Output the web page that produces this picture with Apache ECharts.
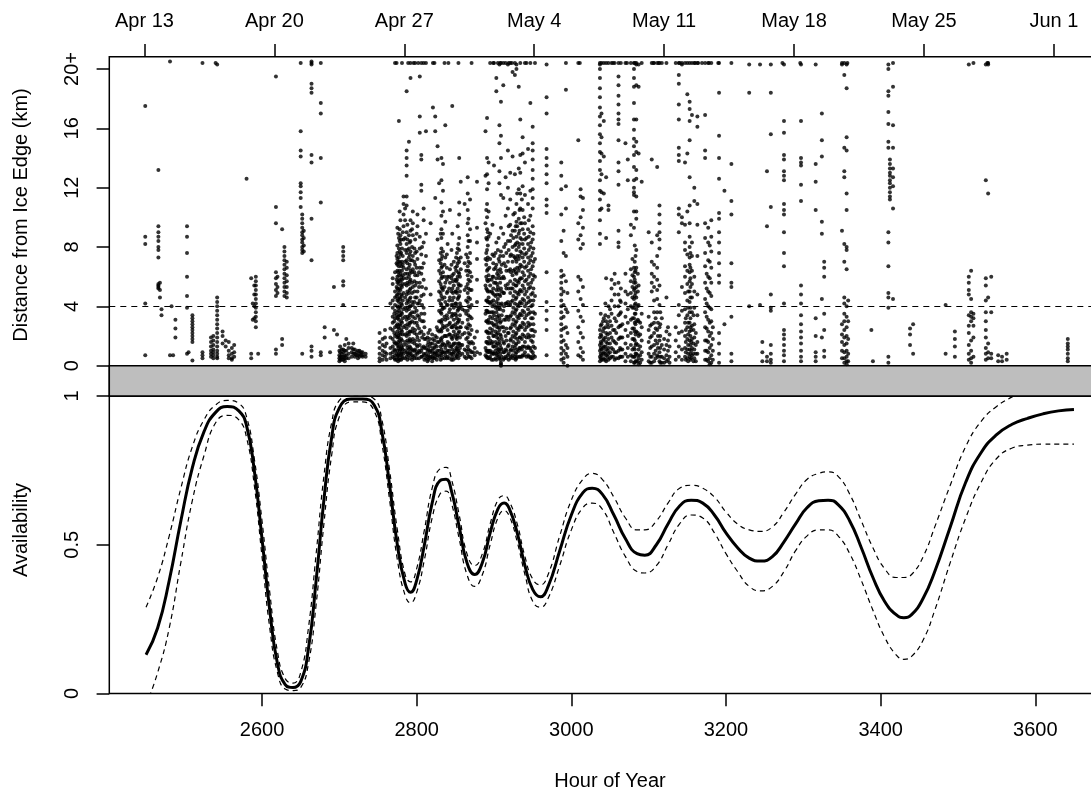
<!DOCTYPE html>
<html>
<head>
<meta charset="utf-8">
<script src="https://cdn.jsdelivr.net/npm/echarts@6/dist/echarts.min.js"></script>
<style>
html,body{margin:0;padding:0;background:#fff;overflow:hidden;}
#chart{width:1120px;height:791px;}
</style>
</head>
<body>
<div id="chart"></div>
<script>
// ---------- tick labels ----------
const dateTickHours = [2448, 2616, 2784, 2952, 3120, 3288, 3456, 3624];
const dateTickLabels = ['Apr 13', 'Apr 20', 'Apr 27', 'May 4', 'May 11', 'May 18', 'May 25', 'Jun 1'];
const hourTicks = [2600, 2800, 3000, 3200, 3400, 3600];
const distTicks = [0, 4, 8, 12, 16, 20];
const availTicks = [0, 0.5, 1];

// ---------- availability curve (hour, value) ----------
const curveHours = [2450,2465,2480,2495,2510,2525,2540,2555,2570,2580,2590,2600,2610,2620,2630,2640,2650,2660,2670,2680,2690,2700,2715,2730,2745,2755,2765,2775,2785,2792,2800,2810,2820,2830,2838,2845,2855,2865,2875,2885,2895,2905,2913,2920,2930,2940,2950,2960,2970,2985,3000,3015,3027,3040,3055,3070,3085,3095,3110,3125,3140,3155,3170,3185,3200,3215,3230,3245,3260,3275,3290,3305,3320,3332,3345,3360,3375,3390,3405,3420,3430,3440,3455,3470,3490,3510,3530,3550,3570,3590,3610,3630,3650];
const availMain = [0.13,0.22,0.38,0.58,0.76,0.88,0.945,0.965,0.95,0.90,
  0.75,0.52,0.28,0.10,0.03,0.02,0.04,0.15,0.38,0.65,
  0.86,0.96,0.99,0.99,0.97,0.88,0.70,0.50,0.37,0.34,
  0.38,0.50,0.64,0.715,0.72,0.68,0.56,0.44,0.40,0.44,
  0.54,0.62,0.64,0.62,0.54,0.43,0.35,0.325,0.36,0.48,
  0.60,0.675,0.69,0.67,0.60,0.52,0.47,0.465,0.50,0.57,
  0.63,0.65,0.64,0.60,0.54,0.49,0.455,0.445,0.46,0.51,
  0.57,0.625,0.648,0.65,0.635,0.58,0.49,0.39,0.31,0.265,
  0.255,0.265,0.32,0.41,0.56,0.71,0.81,0.87,0.905,0.925,
  0.94,0.95,0.955];
const availUpper = [0.29,0.39,0.53,0.69,0.83,0.92,0.97,0.985,0.975,0.93,
  0.79,0.58,0.34,0.14,0.05,0.035,0.07,0.22,0.47,0.73,
  0.91,0.985,1.0,1.0,0.99,0.92,0.75,0.55,0.40,0.375,
  0.42,0.55,0.69,0.755,0.76,0.72,0.60,0.47,0.43,0.47,
  0.57,0.65,0.665,0.645,0.57,0.46,0.385,0.365,0.40,0.53,
  0.65,0.72,0.74,0.72,0.66,0.59,0.55,0.55,0.58,0.64,
  0.69,0.70,0.69,0.66,0.61,0.57,0.55,0.545,0.56,0.61,
  0.67,0.72,0.74,0.745,0.73,0.67,0.58,0.49,0.42,0.39,
  0.39,0.40,0.46,0.56,0.70,0.83,0.915,0.965,0.997,1.025,
  1.05,1.07,1.08];
const availLower = [-0.04,0.07,0.22,0.44,0.65,0.80,0.91,0.935,0.92,0.86,
  0.70,0.46,0.22,0.07,0.015,0.01,0.02,0.10,0.30,0.57,
  0.80,0.93,0.98,0.98,0.95,0.84,0.65,0.45,0.33,0.305,
  0.34,0.45,0.59,0.67,0.68,0.64,0.52,0.40,0.36,0.40,
  0.50,0.59,0.615,0.595,0.51,0.40,0.31,0.29,0.32,0.43,
  0.55,0.625,0.64,0.62,0.54,0.46,0.41,0.405,0.43,0.50,
  0.57,0.60,0.59,0.54,0.47,0.41,0.36,0.345,0.36,0.41,
  0.48,0.53,0.55,0.55,0.53,0.47,0.38,0.28,0.19,0.13,
  0.115,0.125,0.18,0.28,0.44,0.59,0.71,0.79,0.825,0.835,
  0.838,0.838,0.838];

// ---------- distance from ice edge: [hour, [distances km]] ; 20.4 = "20+" ----------
const scatterCols = [
 [2449,[17.5,8.7,8.2,4.2,0.7]],
 [2466,[13.2,9.4,9.0,8.7,8.4,8.0,7.8,7.3,5.5,5.4,5.3,5.2]],
 [2468,[5.6,5.1,4.6]],
 [2470,[3.8,3.4]],
 [2481,[20.5,0.7]],
 [2483,[4.0]],
 [2485,[0.7]],
 [2488,[3.1,2.5,1.9]],
 [2503,[9.4,8.7,7.6,6.0,4.7,3.9,0.8]],
 [2505,[0.9]],
 [2510,[3.4,3.2,3.0,2.8,2.6,2.4,2.2,2.0,1.8,1.6,0.35]],
 [2523,[20.4,0.9,0.7,0.5]],
 [2534,[1.9,1.6,1.3,1.0,0.8,0.6]],
 [2537,[2.0,1.7,1.4,1.1,0.9,0.7,0.5]],
 [2540,[20.4]],
 [2542,[20.3,4.6,4.3,4.0,3.7,3.4,3.1,2.8,2.5,2.2,1.9,1.6,1.3,1.0,0.8,0.6,0.5]],
 [2549,[2.3,2.0,1.5]],
 [2553,[1.7,1.3]],
 [2557,[1.6,1.0,0.7,0.5]],
 [2561,[1.2,0.8,0.5,0.4]],
 [2564,[1.4,0.9,0.6]],
 [2580,[12.6]],
 [2586,[5.9,0.8,0.5]],
 [2588,[4.2,3.1]],
 [2590,[5.4,4.8,4.0,3.2]],
 [2592,[6.0,5.7,5.4,5.1,4.8,4.5,4.2,3.9,3.6,3.3,3.0,2.6]],
 [2595,[0.8]],
 [2618,[19.5,10.7,9.6,6.3,5.9,5.5,5.1,4.7,1.1,0.8]],
 [2620,[6.0,5.3,4.9]],
 [2626,[9.2,1.8,1.4]],
 [2629,[8.0,7.7,7.4,7.1,6.8,6.5,6.2,5.9,5.6,5.3,5.0,4.7]],
 [2632,[7.0,6.6,6.1,5.7,5.3,4.9,4.6]],
 [2650,[20.4,15.8,14.5,14.1,12.3,12.1,11.7,11.3,10.7]],
 [2652,[10.2,9.9,9.6,9.3,9.0,8.8,8.5,8.3,8.0,7.8,7.6,0.8]],
 [2654,[9.1,8.6,8.1,7.7]],
 [2664,[20.5,20.4,20.3,19.0,18.7,18.4,14.2,13.7,9.9,7.1,1.3,1.0,0.6]],
 [2676,[20.4,17.7,17.0,14.0,11.0,0.9,0.7]],
 [2681,[2.6,1.9]],
 [2688,[0.9]],
 [2693,[5.3,2.4]],
 [2697,[2.1]],
 [2700,[1.0,0.7,0.5,0.3]],
 [2703,[1.1,0.8,0.6,0.4]],
 [2705,[8.0,7.7,7.4,7.1,5.7,5.4,4.1,1.1,0.9,0.6,0.4]],
 [2709,[1.8,1.0,0.7,0.5]],
 [2712,[1.5,1.2,0.8,0.5]],
 [2718,[1.5,1.1,0.8]],
 [2722,[0.9,0.7]],
 [2726,[1.0,0.8,0.6]],
 [2730,[0.9,0.7,0.6]],
 [2734,[0.8,0.6]],
 [2752,[2.2,1.6,1.2,0.8,0.5,0.3]],
 [2756,[1.8,1.4,1.0,0.7,0.4]],
 [2759,[2.4,1.9,1.3,0.9,0.6]],
 [2761,[1.5,0.8,0.4]],
 [2766,[4.2,2.5,1.9,1.2,0.8,0.5]],
 [2769,[5.9,5.5,4.4,3.9,3.3,2.9,2.4,1.8,1.3,0.9,0.6]],
 [2772,[6.3,5.0,4.6,4.1,3.7,3.2,2.6,2.0,1.5,1.0,0.7,0.4]],
 [2775,[9.3,8.1,7.6,7.2,6.8,6.4,6.0,5.6,5.2,4.8,4.4,4.0,3.6,3.2,2.8,2.3,1.9,1.4,1.0,0.6]],
 [2777,[16.5,8.6,7.9,7.3,6.7,6.1,5.5,4.9,4.3,3.7,3.1,2.5,1.9,1.3,0.8,0.5]],
 [2779,[9.8,8.8,8.2,7.5,6.9,6.2,5.7,5.1,4.5,3.9,3.4,2.7,2.1,1.5,1.1,0.7]],
 [2781,[20.4,7.9,7.0,6.4,5.8,5.3,4.7,4.1,3.5,2.9,2.3,1.7,1.2,0.9,0.6]],
 [2783,[11.4,10.9,10.2,9.4,8.5,6.6,5.9,4.9,3.8,2.6,1.4,0.8]],
 [2787,[18.5,14.5,14.0,13.5,12.8,11.4,10.8,9.0,8.2,7.6,7.1,6.5,5.9,5.4,4.8,4.2,3.7,3.1,2.5,2.0,1.4,0.9,0.6]],
 [2790,[15.1,8.8,7.9,7.3,6.6,6.0,5.5,4.9,4.3,3.8,3.2,2.7,2.1,1.6,1.1,0.7]],
 [2792,[19.4,20.4,9.8,9.1,8.4,7.7,7.1,6.4,5.8,5.2,4.6,4.0,3.5,2.9,2.3,1.7,1.2,0.8]],
 [2795,[10.4,9.6,8.8,7.4,6.5,5.3,4.1,3.3,2.5,1.8,1.0,0.6]],
 [2798,[20.4,8.5,7.6,6.8,6.1,5.4,4.6,3.9,3.2,2.4,1.7,1.1,0.7]],
 [2801,[10.2,9.4,7.2,6.1,5.0,4.2,3.4,2.7,1.9,1.3,0.8]],
 [2804,[19.5,16.8,15.7,8.7,7.9,6.6,5.6,4.4,3.1,2.2,1.4,0.9]],
 [2806,[20.4,14.2,13.9,12.2,11.8,7.5,6.2,4.7,3.5,2.3,1.0,0.6]],
 [2809,[20.4,10.6,9.8,8.3,6.9,5.8,4.8,3.9,3.0,2.1,1.3,0.8]],
 [2812,[20.4,15.8,8.9,7.4,5.2,1.8,1.2,0.8,0.5]],
 [2815,[2.2,1.6,1.1,0.7,0.4]],
 [2818,[9.6,4.8,1.5,1.0,0.6]],
 [2821,[20.4,17.4,1.8,1.2,0.8,0.5]],
 [2824,[16.8,15.8,11.3,2.0,1.4,0.9,0.6]],
 [2827,[14.8,13.9,8.5,2.4,1.6,1.0,0.7]],
 [2829,[12.3,7.1,6.4,5.7,5.0,4.4,3.7,3.0,2.3,1.6,1.0,0.6]],
 [2832,[14.0,12.5,11.0,10.1,9.2,8.6,7.9,7.2,6.6,5.9,5.3,4.7,4.1,3.5,2.9,2.3,1.7,1.1,0.7]],
 [2834,[13.6,11.8,10.4,8.9,7.7,6.3,5.1,3.9,2.7,1.5,0.9]],
 [2837,[16.2,9.7,7.3,5.6,4.3,3.1,2.0,1.2,0.7]],
 [2840,[8.2,6.0,5.0,4.1,3.2,2.4,1.6,1.0,0.6]],
 [2843,[10.5,6.5,5.6,4.6,3.8,2.9,2.1,1.3,0.8]],
 [2846,[17.5,8.9,6.1,5.2,4.4,3.5,2.6,1.8,1.1,0.6]],
 [2848,[7.0,6.2,5.4,4.6,3.9,3.1,2.3,1.5,0.9]],
 [2851,[7.3,6.4,5.7,5.0,4.2,3.4,2.6,1.9,1.2,0.7]],
 [2853,[9.4,7.9,6.9,6.0,5.2,4.5,3.7,2.9,2.0,1.3,0.8]],
 [2855,[14.0,11.0,10.2,8.6,7.8,7.0,6.2,5.4,4.7,3.9,3.1,2.3,1.5,0.9]],
 [2857,[12.4,7.3,6.5,5.4,4.0,2.6,1.4]],
 [2862,[10.9,6.9,5.1,3.7,2.2,1.1,0.6]],
 [2866,[12.7,11.6,10.5,9.6,8.8,8.0,7.3,6.7,6.1,5.5,4.9,4.3,3.7,3.1,2.5,1.9,1.3,0.8]],
 [2869,[11.2,9.2,8.4,7.6,6.9,6.3,5.7,5.1,4.5,3.9,3.3,2.7,2.1,1.5,1.0,0.6]],
 [2873,[1.5,0.9]],
 [2878,[12.4,9.3,8.3,7.2,5.8,4.3,2.3,0.9]],
 [2882,[0.8]],
 [2889,[15.8,12.8,9.6,7.2,5.4,3.5,1.2,0.7]],
 [2891,[16.7,14.0,12.9,11.9,10.9,10.0,9.2,8.5,7.8,7.1,6.4,5.8,5.1,4.4,3.7,3.0,2.3,1.6,1.0,0.6]],
 [2893,[13.7,12.3,10.4,8.7,6.1,4.6,3.1,1.9,1.0]],
 [2895,[8.9,7.2,5.4,4.2,3.3,2.5,1.7,1.0,0.6]],
 [2898,[9.5,7.5,6.0,4.9,4.0,3.2,2.4,1.6,0.9]],
 [2900,[20.4,13.5,7.4,6.5,5.6,4.8,4.1,3.4,2.7,2.0,1.3,0.8]],
 [2903,[19.4,18.5,8.3,6.8,5.9,5.1,4.3,3.6,2.8,2.1,1.4,0.8,0.4]],
 [2905,[20.4,7.8,6.4,5.3,4.5,3.8,3.0,2.2,1.5,0.9]],
 [2907,[20.3,16.2,15.0,13.1,12.3,7.0,5.9,4.8,3.9,3.2,2.4,1.6,1.0,0.5]],
 [2909,[20.4,17.8,15.5,14.0,11.5,9.3,7.7,6.3,5.2,4.1,3.0,2.0,1.2,0.2,0.1,0.0]],
 [2912,[20.4,18.9,11.3,8.9,7.4,6.0,4.9,3.7,2.6,1.6,0.9,0.4]],
 [2915,[20.4,12.7,10.1,8.2,6.7,5.4,4.2,3.1,2.0,1.1,0.6]],
 [2918,[20.3,14.5,12.0,10.6,8.4,7.0,5.5,4.3,3.3,2.2,1.3,0.7]],
 [2921,[20.4,13.0,11.2,9.5,8.4,7.4,6.5,5.7,4.9,4.1,3.3,2.5,1.7,1.0,0.5]],
 [2924,[19.8,14.1,9.1,8.0,7.0,6.1,5.2,4.4,3.6,2.8,2.0,1.3,0.7]],
 [2927,[20.4,19.6,12.9,10.3,9.1,8.1,7.3,6.5,5.8,5.0,4.2,3.5,2.7,1.9,1.2,0.6]],
 [2929,[20.3,20.0,10.9,9.7,8.7,7.8,7.0,6.2,5.4,4.6,3.8,3.0,2.2,1.5,0.9,0.5]],
 [2932,[18.8,13.3,11.9,9.9,8.9,8.0,7.2,6.4,5.6,4.8,4.0,3.2,2.4,1.6,1.0]],
 [2934,[20.4,16.6,14.2,13.0,11.6,10.6,9.6,8.6,7.7,6.8,5.9,5.1,4.3,3.5,2.7,1.9,1.2,0.6]],
 [2937,[15.4,14.3,12.1,10.5,9.2,8.2,7.3,6.3,5.4,4.5,3.7,2.9,2.1,1.3,0.7]],
 [2940,[20.4,13.7,11.5,9.6,8.5,7.5,6.6,5.7,4.8,4.0,3.2,2.4,1.6,0.9]],
 [2944,[14.6,10.9,9.2,8.2,7.3,6.4,5.5,4.6,3.8,2.9,2.1,1.3,0.7]],
 [2947,[17.7,11.8,10.1,9.0,8.0,7.1,6.2,5.3,4.4,3.6,2.8,2.0,1.2,0.6]],
 [2950,[16.1,15.0,14.5,13.9,13.2,12.6,11.9,11.3,10.6,9.4,8.5,7.6,6.7,5.8,4.9,4.1,3.2,2.4,1.6,0.9,0.5]],
 [2953,[7.2,6.0,4.7,3.5,2.3,1.2,0.6]],
 [2968,[20.3,18.1,17.0,14.6,14.0,13.5,12.9,12.3,11.2,10.8,10.3,6.3,4.3,3.7,3.1,2.4,0.7]],
 [2987,[13.7,12.8,11.9,10.2,8.4,6.4,6.0,5.6,5.2,4.8,4.4,4.0,3.6,3.2,2.8,2.4,2.0,1.6,1.2,0.8,0.4]],
 [2990,[9.1,7.6,6.1,5.0,4.1,3.3,2.5,1.7,1.0,0.5,0.2]],
 [2993,[20.4,18.6,12.1,10.6,7.4,5.7,3.8,2.6,1.4,0.8]],
 [2995,[4.9,3.6,2.2,1.2,0.6,0.0]],
 [3009,[20.4,15.2,9.6,8.5,6.0,5.0,3.7,2.6,1.6,0.7]],
 [3012,[11.9,11.4,10.0,8.8,7.9,5.8,4.5,3.3,2.2,1.2,0.6]],
 [3015,[11.3,10.5,9.3,8.2,5.3,4.1,3.0,1.9,0.9,0.4]],
 [3037,[20.4,20.3,20.0,19.4,18.7,18.1,17.4,16.8,16.2,15.6,15.0,14.4,13.8,13.2,12.5,11.8,11.2,10.5,9.8,8.9,8.2,2.4,1.9,1.4,1.0,0.6,0.3]],
 [3039,[20.4,17.0,15.4,14.3,12.9,11.7,10.6,2.8,2.0,1.5,1.1,0.7,0.4]],
 [3042,[20.4,16.5,14.1,11.6,3.2,2.5,1.8,1.3,0.9,0.5]],
 [3045,[20.4,12.7,8.6,5.9,3.0,2.2,1.6,1.1,0.7,0.3]],
 [3048,[20.4,10.8,10.5,4.0,3.3,2.6,1.8,1.2,0.8,0.4]],
 [3052,[20.4,5.8,5.2,4.4,3.5,2.7,1.9,1.2,0.6]],
 [3056,[20.4,6.2,5.5,4.8,4.0,3.2,2.4,1.6,0.9,0.4]],
 [3061,[20.4,19.5,18.9,18.2,17.6,17.0,16.6,16.3,15.2,13.7,13.1,12.2,9.1,8.3,8.0,5.6,4.8,4.0,3.4,2.6,1.8,1.0,0.5]],
 [3064,[20.4,5.2,4.3,3.6,2.7,1.9,1.1,0.6]],
 [3070,[20.4,15.0,6.2,5.0,4.2,3.3,2.4,1.5,0.8,0.3]],
 [3073,[13.9,12.5,4.8,3.8,2.9,2.0,1.2,0.6]],
 [3077,[20.4,9.5,8.8,6.5,5.7,4.9,4.0,3.1,2.2,1.4,0.7,0.3]],
 [3081,[20.4,20.0,19.4,18.8,17.7,16.6,15.9,15.3,14.8,14.2,13.4,12.5,12.0,11.7,11.5,10.4,9.3,6.6,6.0,5.6,5.1,4.5,3.9,3.2,2.5,1.8,1.2,0.6,0.2]],
 [3084,[20.4,20.3,18.9,16.6,15.1,14.4,13.2,12.6,11.4,10.4,9.9,7.8,6.6,5.3,4.6,3.8,3.0,2.3,1.5,0.8,0.3]],
 [3087,[20.3,18.8,14.3,5.4,4.1,3.0,2.0,1.1,0.5,0.1]],
 [3091,[20.4,12.4,3.5,2.6,1.7,0.9,0.4]],
 [3100,[9.0,3.3,2.4,1.6,0.8,0.3]],
 [3104,[20.4,13.9,8.3,7.0,6.2,5.6,5.0,2.8,2.0,1.3,0.6,0.2]],
 [3107,[20.4,6.8,6.0,5.3,4.4,3.6,2.9,2.2,1.4,0.8,0.3]],
 [3111,[20.4,13.4,8.8,7.4,6.6,5.8,5.1,4.5,3.6,2.4,1.5,0.7]],
 [3114,[20.4,10.8,10.2,9.6,9.0,8.5,7.9,5.4,4.1,2.6,1.7,0.9,0.3]],
 [3117,[20.4,3.2,1.4,0.6,0.2]],
 [3123,[20.4,4.6,2.3,1.4,0.7,0.3]],
 [3127,[2.1,1.3,0.6,0.2]],
 [3135,[20.4,2.6,1.7,0.9,0.4]],
 [3139,[20.4,19.6,19.0,17.6,16.6,14.7,14.2,13.8,10.6,10.2,9.0,4.1,3.4,2.2,1.3,0.6]],
 [3143,[20.4,20.3,10.0,9.6,5.3,3.7,2.3,1.1,0.4]],
 [3147,[20.4,13.7,9.5,8.3,7.8,6.7,6.0,4.9,3.8,2.9,2.0,1.2,0.6]],
 [3150,[20.4,18.3,14.3,10.4,7.5,6.4,5.5,4.4,3.4,2.6,1.8,1.1,0.5]],
 [3153,[20.4,17.8,17.3,16.5,15.2,12.7,10.8,9.6,8.7,8.0,7.3,6.8,6.3,5.7,5.0,4.3,3.6,2.9,2.3,1.7,1.1,0.6]],
 [3156,[20.4,16.9,8.3,7.4,6.4,5.5,4.6,3.6,2.7,1.8,1.2,0.7]],
 [3159,[20.4,12.0,11.1,6.0,5.0,3.9,2.8,1.9,1.1,0.5]],
 [3163,[20.4,16.8,16.1,10.9,9.5,7.4,4.8,3.4,1.6,0.8]],
 [3173,[20.4,16.9,14.5,14.0,9.6,8.6,7.6,6.7,5.6,4.5,3.6,2.6,1.7,1.0,0.4]],
 [3177,[20.4,9.3,8.3,7.1,6.0,5.0,4.0,3.1,2.3,1.6,0.9,0.3]],
 [3181,[20.4,9.8,8.7,7.7,6.6,5.6,4.7,3.8,3.0,2.2,1.4,0.7,0.2]],
 [3191,[20.4,18.4,15.5,14.0,12.6,10.3,9.9,9.0,8.3,7.6,6.9,6.1,5.6,2.2,1.5,0.8,0.2]],
 [3198,[11.8,2.8]],
 [3207,[20.4,13.6,11.1,10.2,6.9,5.6,5.3,3.3,0.8,0.3]],
 [3230,[20.3,18.4,4.0]],
 [3244,[20.3,4.1]],
 [3247,[1.6,0.9,0.3]],
 [3253,[13.1,9.4,0.6,0.3]],
 [3258,[20.3,18.4,15.6,10.7,4.8,3.9,3.7,1.4,0.8,0.4,0.2]],
 [3275,[20.3,16.5,15.7,14.2,13.9,13.1,12.8,12.5,10.9,10.5,10.2,9.0,7.6,6.7,4.2,2.4,2.1,1.8,1.4,1.0,0.7,0.3]],
 [3297,[20.3,16.5,14.0,13.7,13.5,12.2,11.1,5.4,4.8,4.2,3.4,2.8,2.3,1.9,1.5,1.0,0.6,0.3]],
 [3316,[20.3,13.6,12.4,10.5,3.2,2.0,0.9,0.6,0.3]],
 [3324,[17.0,15.2,14.1,9.7,8.9,4.5,1.9]],
 [3327,[7.0,6.6,6.0,3.5,2.4,1.0,0.6]],
 [3350,[20.3,20.4,9.1,2.8,2.1,1.6,1.0,0.5]],
 [3353,[20.4,19.6,14.7,13.1,12.7,8.2,7.0,4.6,4.2,3.5,3.0,2.4,1.9,1.4,0.9,0.5,0.2]],
 [3356,[20.3,18.7,15.4,14.5,11.6,10.5,8.0,7.8,6.5,4.0,3.3,2.6,2.0,1.5,1.0,0.6,0.3,0.1]],
 [3358,[4.4,3.0,1.8,0.8,0.3]],
 [3388,[2.4]],
 [3390,[0.3]],
 [3410,[20.3,20.0,18.5,18.2,17.1,16.3,15.1,14.7,9.0,8.3,6.7,4.9,4.6,3.9,0.6,0.2]],
 [3412,[13.9,13.6,13.3,13.0,12.8,12.5,12.3,12.0,11.7,11.4,11.2]],
 [3416,[20.4,18.8,16.2,14.7,13.3,12.7,12.1,10.6,4.5]],
 [3438,[2.5,2.1,1.4]],
 [3442,[2.8,0.8]],
 [3484,[4.1,0.8]],
 [3496,[2.3,1.8,1.3,0.6]],
 [3514,[20.3,6.0,5.6,5.1,4.8,3.4,2.7,2.2,1.4,0.8,0.4]],
 [3517,[6.4,4.5,3.6,3.3,3.0,1.7,1.0,0.5,0.2]],
 [3520,[3.5,3.2,2.7,1.9,0.6]],
 [3536,[20.3,12.5,5.9,5.4,4.4,3.6,3.0,2.4,1.9,1.2,0.8,0.4]],
 [3539,[20.4,20.3,11.6,4.6,1.5,0.9,0.5]],
 [3543,[6.0,3.6,0.8,0.5]],
 [3552,[0.7,0.3]],
 [3557,[0.6,0.3]],
 [3563,[0.8,0.4]],
 [3642,[1.8,1.5,1.3,1.1,0.8,0.5,0.3]]
];
// additional readings inside the densest bursts
const scatterColsDense = [
 [2701,[1.3,0.9,0.6,0.4]], [2707,[1.4,1.0,0.7,0.5,0.3]], [2716,[1.2,0.9,0.6]],
 [2720,[1.1,0.8,0.6]], [2724,[1.0,0.7,0.5]], [2728,[0.9,0.7]],
 [2771,[3.5,3.0,2.2,1.6,1.1,0.5]],
 [2774,[7.4,6.9,5.8,5.3,4.7,3.4,2.7,2.1,1.5,0.8,0.4]],
 [2776,[8.9,7.0,6.3,5.7,5.1,4.5,3.9,3.3,2.6,2.0,1.6,1.2,0.7,0.3]],
 [2778,[10.4,9.2,8.4,7.7,7.0,6.4,5.8,5.2,4.6,4.0,3.4,2.8,2.2,1.7,1.0,0.4]],
 [2780,[8.5,7.6,6.7,6.0,5.4,4.8,4.2,3.6,3.0,2.4,1.8,1.3,0.8,0.4]],
 [2782,[9.0,7.4,6.8,6.1,5.5,4.4,3.2,2.1,1.1,0.5]],
 [2785,[10.6,9.8,8.6,7.8,7.0,6.2,5.5,4.6,3.9,3.3,2.7,2.1,1.6,1.0,0.5]],
 [2788,[9.5,8.5,7.8,6.9,6.2,5.6,5.0,4.4,3.9,3.3,2.8,2.2,1.7,1.2,0.8,0.4]],
 [2791,[8.3,7.5,6.8,6.2,5.7,5.1,4.5,4.0,3.4,2.9,2.3,1.8,1.3,0.9,0.5]],
 [2794,[9.2,8.0,7.1,6.3,5.6,4.9,4.3,3.6,3.0,2.3,1.6,1.1,0.7,0.4]],
 [2797,[7.9,7.0,6.3,5.7,5.0,4.3,3.6,2.9,2.2,1.5,1.0,0.5]],
 [2800,[8.9,7.7,6.6,5.6,4.6,3.7,2.9,2.1,1.4,0.9,0.5]],
 [2803,[6.3,5.3,4.2,3.3,2.5,1.7,1.0,0.5]],
 [2807,[8.0,6.6,5.3,4.1,3.0,1.9,1.2,0.6]],
 [2810,[3.5,2.6,1.8,1.2,0.7,0.4]],
 [2814,[1.9,1.4,1.0,0.6,0.3]], [2817,[2.4,1.8,1.3,0.9,0.5]], [2820,[2.1,1.5,1.0,0.6,0.3]],
 [2823,[1.7,1.2,0.8,0.5]], [2826,[2.6,1.9,1.3,0.8,0.4]],
 [2831,[8.9,7.6,6.9,6.2,5.5,4.9,4.2,3.6,3.0,2.4,1.8,1.3,0.8,0.4]],
 [2833,[7.4,6.7,6.0,5.2,4.5,3.8,3.1,2.5,1.9,1.4,0.9,0.5]],
 [2836,[6.8,6.0,5.3,4.6,3.9,3.3,2.6,2.0,1.4,0.9,0.5]],
 [2839,[7.5,6.6,5.8,4.9,4.1,3.4,2.7,2.0,1.4,0.9,0.5]],
 [2842,[6.0,5.2,4.4,3.6,2.8,2.1,1.5,1.0,0.5]],
 [2845,[7.8,6.8,5.9,5.0,4.1,3.3,2.6,1.9,1.3,0.8,0.4]],
 [2847,[5.7,4.9,4.1,3.4,2.7,2.0,1.4,0.8,0.4]],
 [2850,[6.6,5.8,5.0,4.2,3.5,2.8,2.1,1.5,1.0,0.5]],
 [2852,[7.6,6.7,5.8,4.9,4.0,3.2,2.5,1.8,1.1,0.6]],
 [2854,[8.2,7.2,6.3,5.5,4.6,3.8,3.0,2.2,1.5,1.0,0.5]],
 [2856,[6.0,5.0,4.2,3.4,2.6,1.9,1.2,0.7]],
 [2859,[3.8,2.9,2.1,1.4,0.8]],
 [2864,[7.5,6.4,5.3,4.4,3.5,2.6,1.8,1.0,0.5]],
 [2867,[9.9,8.4,7.0,6.4,5.8,5.2,4.6,4.0,3.4,2.8,2.2,1.6,1.1,0.6]],
 [2871,[6.0,5.1,4.1,3.2,2.4,1.6,0.9,0.5]],
 [2875,[1.9,1.2,0.7]],
 [2890,[10.5,8.6,7.6,6.8,6.0,5.2,4.4,3.7,3.0,2.3,1.6,1.0,0.6]],
 [2892,[9.0,8.1,7.3,6.5,5.7,5.0,4.3,3.6,2.9,2.2,1.5,0.9,0.5]],
 [2894,[6.6,5.8,5.0,4.3,3.6,2.9,2.2,1.5,0.9,0.5]],
 [2897,[5.8,5.0,4.3,3.6,2.9,2.2,1.5,0.8,0.4]],
 [2899,[6.9,6.0,5.2,4.4,3.6,2.8,2.0,1.3,0.8,0.4]],
 [2902,[7.6,6.6,5.6,4.7,3.9,3.1,2.3,1.6,1.0,0.5]],
 [2904,[6.2,5.5,4.8,4.0,3.3,2.6,1.9,1.2,0.7]],
 [2906,[8.6,7.2,6.1,5.1,4.2,3.4,2.6,1.8,1.1,0.6]],
 [2908,[7.4,6.5,5.6,4.7,3.8,2.9,2.1,1.4,0.8,0.4]],
 [2910,[6.8,5.9,5.0,4.2,3.4,2.6,1.8,1.1,0.6]],
 [2913,[8.0,6.9,5.9,4.9,4.0,3.1,2.3,1.5,0.9,0.5]],
 [2916,[7.6,6.4,5.2,4.2,3.3,2.5,1.7,1.0,0.5]],
 [2919,[9.4,7.8,6.4,5.2,4.1,3.1,2.2,1.4,0.8,0.4]],
 [2922,[8.8,7.5,6.3,5.2,4.3,3.4,2.6,1.8,1.1,0.6]],
 [2925,[10.2,8.6,7.4,6.4,5.5,4.7,3.9,3.1,2.3,1.6,1.0,0.5]],
 [2928,[9.4,8.2,7.2,6.3,5.4,4.5,3.7,2.9,2.1,1.4,0.8,0.4]],
 [2930,[11.6,9.4,8.3,7.4,6.6,5.7,4.9,4.1,3.3,2.5,1.8,1.1,0.6]],
 [2933,[10.5,9.1,8.2,7.4,6.6,5.8,5.0,4.2,3.4,2.6,1.9,1.2,0.6]],
 [2936,[11.2,9.6,8.5,7.6,6.7,5.9,5.0,4.2,3.4,2.6,1.8,1.1,0.6]],
 [2939,[10.0,8.9,7.9,7.0,6.1,5.2,4.4,3.6,2.8,2.0,1.3,0.7]],
 [2942,[8.6,7.6,6.7,5.8,5.0,4.2,3.4,2.6,1.9,1.2,0.6]],
 [2945,[9.8,8.7,7.8,6.9,6.0,5.2,4.3,3.5,2.7,1.9,1.2,0.6]],
 [2948,[8.3,7.4,6.5,5.6,4.8,4.0,3.2,2.4,1.7,1.0,0.5]],
 [2951,[8.9,7.9,7.0,6.1,5.2,4.4,3.6,2.8,2.0,1.3,0.7]],
 [3038,[3.5,2.7,2.1,1.6,1.2,0.8,0.5]], [3041,[3.0,2.3,1.7,1.2,0.8,0.4]],
 [3044,[4.2,3.4,2.6,1.9,1.3,0.8,0.4]], [3047,[2.8,2.1,1.5,1.0,0.6]],
 [3050,[3.8,3.0,2.2,1.5,0.9,0.5]], [3054,[2.4,1.7,1.1,0.6]],
 [3058,[3.0,2.2,1.5,0.9,0.5]], [3063,[4.4,3.5,2.7,1.9,1.2,0.6]], [3066,[2.8,1.9,1.1,0.6]],
 [3079,[7.2,6.1,5.3,4.6,3.9,3.2,2.5,1.8,1.1,0.6]],
 [3082,[8.1,7.0,6.3,5.8,5.2,4.7,4.1,3.5,2.9,2.3,1.7,1.1,0.6,0.2]],
 [3083,[7.4,6.4,5.6,4.9,4.2,3.5,2.8,2.1,1.4,0.8,0.3]],
 [3086,[6.2,5.0,4.0,3.1,2.2,1.4,0.7,0.3]], [3089,[2.9,2.1,1.3,0.7,0.2]],
 [3102,[2.7,1.9,1.2,0.6,0.2]], [3109,[3.2,2.5,1.7,1.0,0.5]], [3112,[2.9,2.0,1.2,0.6]],
 [3115,[3.6,2.8,2.0,1.2,0.6,0.2]], [3120,[1.8,1.1,0.5,0.2]], [3125,[2.6,1.7,1.0,0.4]],
 [3148,[3.2,2.4,1.6,0.9,0.4]], [3151,[5.0,3.9,2.9,2.1,1.4,0.8,0.3]],
 [3154,[7.6,6.6,5.9,5.3,4.6,3.9,3.2,2.6,2.0,1.4,0.8,0.4]],
 [3155,[2.4,1.6,1.0,0.5]], [3158,[3.4,2.4,1.5,0.8,0.3]], [3161,[2.2,1.4,0.8,0.3]],
 [3175,[6.2,5.2,4.2,3.3,2.5,1.7,1.0,0.4]],
 [3179,[8.1,7.0,5.9,4.9,3.9,2.9,2.0,1.2,0.5,0.1]],
 [3183,[2.6,1.8,1.0,0.4]]
];
// extra hours with a "20+" reading (drawn on the top row)
const topRowHours = [2772,2774,2789,2796,2802,2823,2836,2841,2854,2871,2895,2899,2908,2919,2923,2942,2947,2953,3011,3054,3072,3082,3106,3113,3140,3160,3164,3169,3178,3190,3273,3296,3357,3520,3538];
const topRowValue = 20.4;

// ---------- build ----------
const scatterData = [];
scatterCols.concat(scatterColsDense).forEach(([h, ds]) => ds.forEach(d => scatterData.push([h, d])));
topRowHours.forEach(h => scatterData.push([h, topRowValue]));
const pair = vals => curveHours.map((h, i) => [h, vals[i]]);

const X_MIN = 2402.5, X_MAX = 3697.5;
const FONT = 'Liberation Sans, Arial, Helvetica, sans-serif';
const tickStyle = { color: '#000', width: 1.5 };
const labelStyle = { color: '#000', fontSize: 20, fontFamily: FONT, margin: 27 };

const chart = echarts.init(document.getElementById('chart'), null, { renderer: 'canvas' });
chart.setOption({
  animation: false,
  backgroundColor: '#fff',
  grid: [
    { left: 109.3, top: 56.7, width: 1001.4, height: 339.3, show: true, borderColor: '#000', borderWidth: 1.5, backgroundColor: 'transparent' },
    { left: 109.3, top: 396, width: 1001.4, height: 297.5, show: true, borderColor: '#000', borderWidth: 1.5, backgroundColor: 'transparent' }
  ],
  xAxis: [
    { gridIndex: 0, type: 'value', position: 'top', min: X_MIN, max: X_MAX,
      axisLine: { show: false, onZero: false }, splitLine: { show: false },
      axisTick: { show: true, length: 12.7, lineStyle: tickStyle, customValues: dateTickHours },
      axisLabel: Object.assign({}, labelStyle, { margin: 25, customValues: dateTickHours,
        formatter: v => dateTickLabels[dateTickHours.indexOf(v)] }) },
    { gridIndex: 1, type: 'value', position: 'bottom', min: X_MIN, max: X_MAX,
      axisLine: { show: false, onZero: false }, splitLine: { show: false },
      axisTick: { show: true, length: 12.7, lineStyle: tickStyle, customValues: hourTicks },
      axisLabel: Object.assign({}, labelStyle, { customValues: hourTicks, formatter: v => String(v) }) }
  ],
  yAxis: [
    { gridIndex: 0, type: 'value', min: -2.042, max: 20.829,
      axisLine: { show: false, onZero: false }, splitLine: { show: false },
      axisTick: { show: true, length: 12.7, lineStyle: tickStyle, customValues: distTicks },
      axisLabel: Object.assign({}, labelStyle, { customValues: distTicks, rotate: 90,
        formatter: v => (v === 20 ? '20+' : String(v)) }) },
    { gridIndex: 1, type: 'value', min: 0, max: 1,
      axisLine: { show: false, onZero: false }, splitLine: { show: false },
      axisTick: { show: true, length: 12.7, lineStyle: tickStyle, customValues: availTicks },
      axisLabel: Object.assign({}, labelStyle, { customValues: availTicks, rotate: 90,
        formatter: v => String(v) }) }
  ],
  graphic: [
    { type: 'text', x: 21, y: 215, rotation: Math.PI / 2,
      style: { text: 'Distance from Ice Edge (km)', font: '20px ' + FONT, fill: '#000', align: 'center', verticalAlign: 'middle' } },
    { type: 'text', x: 21, y: 530, rotation: Math.PI / 2,
      style: { text: 'Availability', font: '20px ' + FONT, fill: '#000', align: 'center', verticalAlign: 'middle' } },
    { type: 'text', x: 610, y: 781,
      style: { text: 'Hour of Year', font: '20px ' + FONT, fill: '#000', align: 'center', verticalAlign: 'middle' } }
  ],
  series: [
    { type: 'scatter', xAxisIndex: 0, yAxisIndex: 0, data: scatterData,
      symbol: 'circle', symbolSize: 4, itemStyle: { color: '#000' }, silent: true, z: 3,
      markArea: { silent: true, itemStyle: { color: '#bebebe', borderColor: '#000', borderWidth: 1.5 },
        data: [[{ yAxis: -2.042 }, { yAxis: 0 }]] },
      markLine: { silent: true, symbol: ['none', 'none'], label: { show: false },
        lineStyle: { color: '#000', width: 1.2, type: [6, 5] },
        data: [{ yAxis: 4 }] } },
    { type: 'line', xAxisIndex: 1, yAxisIndex: 1, data: pair(availUpper), smooth: true, showSymbol: false,
      lineStyle: { color: '#000', width: 1.2, type: [5, 4] }, silent: true },
    { type: 'line', xAxisIndex: 1, yAxisIndex: 1, data: pair(availLower), smooth: true, showSymbol: false,
      lineStyle: { color: '#000', width: 1.2, type: [5, 4] }, silent: true },
    { type: 'line', xAxisIndex: 1, yAxisIndex: 1, data: pair(availMain), smooth: true, showSymbol: false,
      lineStyle: { color: '#000', width: 3 }, silent: true }
  ]
});
</script>
</body>
</html>
